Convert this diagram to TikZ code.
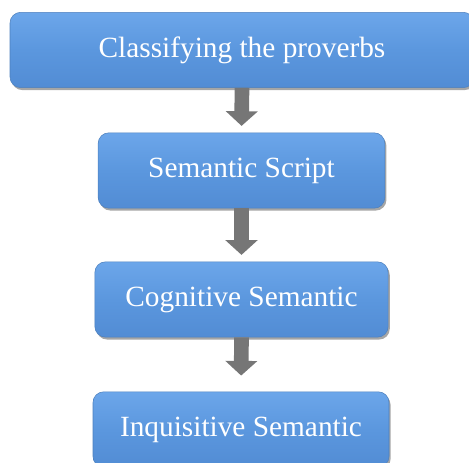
\documentclass[tikz,border=0pt]{standalone}
\usepackage{fontspec}
\setmainfont{Liberation Serif}
\usetikzlibrary{arrows.meta,shadows}

\definecolor{boxblue}{RGB}{91,151,222}
\definecolor{boxtop}{RGB}{108,166,234}
\definecolor{boxbottom}{RGB}{82,140,212}
\definecolor{arrowgray}{RGB}{118,118,118}

\begin{document}
\begin{tikzpicture}[x=0.75pt,y=0.75pt,yscale=-1,xscale=1]
\tikzset{
  stagebox/.style={rounded corners=8pt, top color=boxtop, bottom color=boxbottom, middle color=boxblue,
    draw=boxblue!85!black, line width=0.4pt, text=white, font=\fontsize{22}{26}\selectfont,
    minimum height=56.5pt, inner sep=0pt,
    drop shadow={shadow xshift=1.2pt, shadow yshift=-1.8pt, opacity=0.35, fill=black}},
  downarrow/.style={draw=arrowgray, line width=11pt,
    -{Triangle[width=23.5pt,length=11pt]}}
}
\clip (0,0) rectangle (469,463);

% stages
\node [stagebox, minimum width=348pt] (classify) at (242,50) {Classifying the proverbs};
\node [stagebox, minimum width=215pt] (script) at (241.5,170.5) {Semantic Script};
\node [stagebox, minimum width=220pt] (cognitive) at (241.5,299.5) {Cognitive Semantic};
\node [stagebox, minimum width=222pt] (inquisitive) at (241,429.5) {Inquisitive Semantic};

% arrows between stages
\draw [downarrow, shorten >=5pt] (classify.south) -- (script.north);
\draw [downarrow, shorten >=5pt] (script.south) -- (cognitive.north);
\draw [downarrow, shorten >=12pt] (cognitive.south) -- (inquisitive.north);

\end{tikzpicture}
\end{document}
